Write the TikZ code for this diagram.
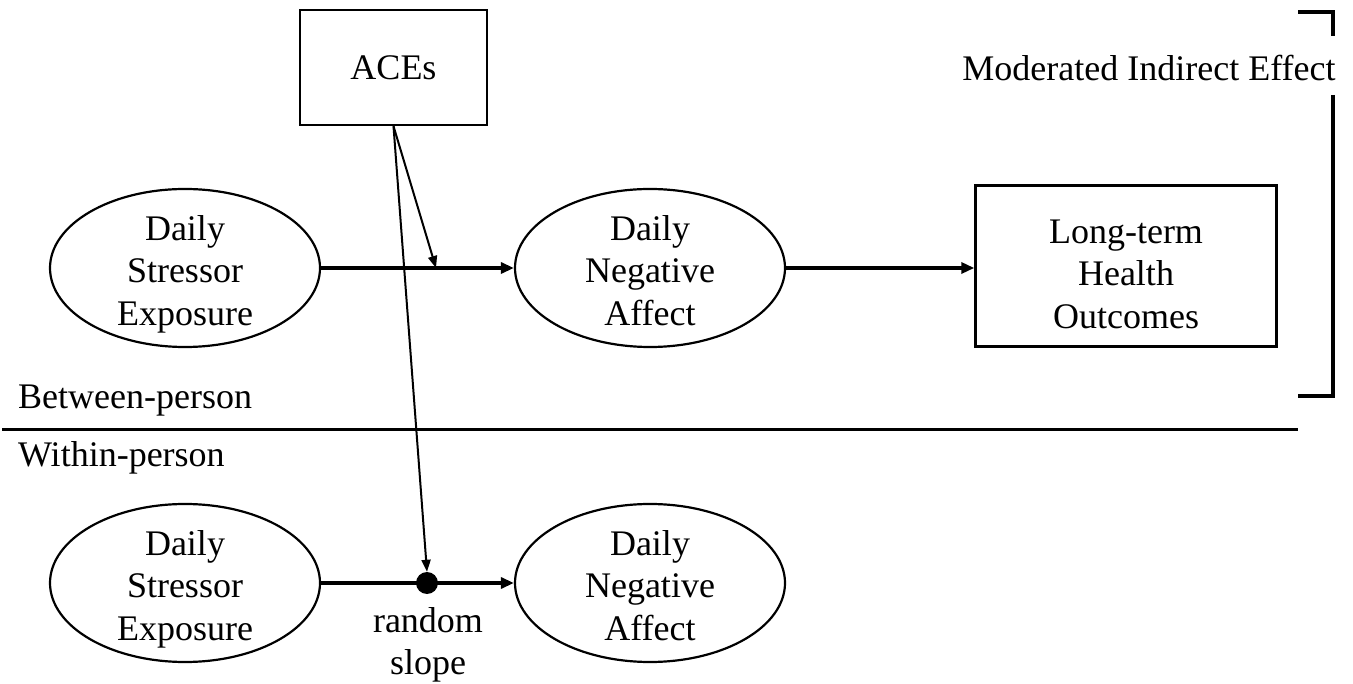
\documentclass[tikz,border=0pt]{standalone}
\usepackage{fontspec}
\setmainfont{Liberation Serif}
\usetikzlibrary{shapes.geometric,arrows.meta}
\begin{document}
\begin{tikzpicture}[x=1pt,y=-1pt,
  txt/.style={font=\fontsize{36}{42.5}\selectfont, align=center},
  ell/.style={ellipse, draw, line width=2.2pt, minimum width=270pt, minimum height=158pt, inner sep=0pt},
  box/.style={txt, rectangle, draw, line width=2.4pt, inner sep=0pt},
  path/.style={line width=3.2pt, -{Triangle[length=13pt,width=11pt]}},
  mline/.style={line width=2pt, -{Triangle[length=12pt,width=9pt]}},
  brk/.style={line width=4.5pt}]
\useasboundingbox (0,0) rectangle (1353,684);
% top row
\node[box, minimum width=187pt, minimum height=115pt] (aces) at (393.5,67.5) {ACEs};
\node[ell] (e1) at (185,268) {};
\node[txt] (e1t) at (185,274) {Daily\\Stressor\\Exposure};
\node[ell] (e2) at (650,268) {};
\node[txt] (e2t) at (650,274) {Daily\\Negative\\Affect\vphantom{p}};
\node[rectangle, draw, line width=2.4pt, minimum width=301pt, minimum height=161pt] (lt) at (1126,266) {};
\node[txt] (ltt) at (1126,274) {Long-term\\Health\\Outcomes};
\draw[path] (e1.east) -- (e2.west);
\draw[path] (e2.east) -- (e2.east -| lt.west);
\coordinate (mod) at (436,268);
\draw[mline] (aces.south) -- (mod);
% label and bracket
\node[txt, anchor=center] (mie) at (1149,68) {Moderated Indirect Effect};
\coordinate (b1) at (1298,12);
\coordinate (b2) at (1333,12);
\coordinate (b3) at (1333,36);
\coordinate (b4) at (1333,95);
\coordinate (b5) at (1333,396);
\coordinate (b6) at (1298,396);
\draw[brk] (b1) -- (b2) -- (b3);
\draw[brk] (b4) -- (b5) -- (b6);
% divider
\coordinate (d1) at (2,430);
\coordinate (d2) at (1298,430);
\draw[line width=3pt] (d1) -- (d2);
\node[txt, anchor=west, inner sep=0pt] (bp) at (18,401) {Between-person};
\node[txt, anchor=west, inner sep=0pt] (wp) at (18,458) {Within-person};
% bottom row
\node[ell] (e3) at (185,583) {};
\node[txt] (e3t) at (185,589) {Daily\\Stressor\\Exposure};
\node[ell] (e4) at (650,583) {};
\node[txt] (e4t) at (650,589) {Daily\\Negative\\Affect\vphantom{p}};
\draw[path] (e3.east) -- (e4.west);
\node[circle, fill=black, minimum size=22pt, inner sep=0pt] (dot) at (427,583) {};
\draw[mline] (aces.south) -- (dot.north);
\node[txt] (rs) at (428,645) {random\\slope};
\end{tikzpicture}
\end{document}
